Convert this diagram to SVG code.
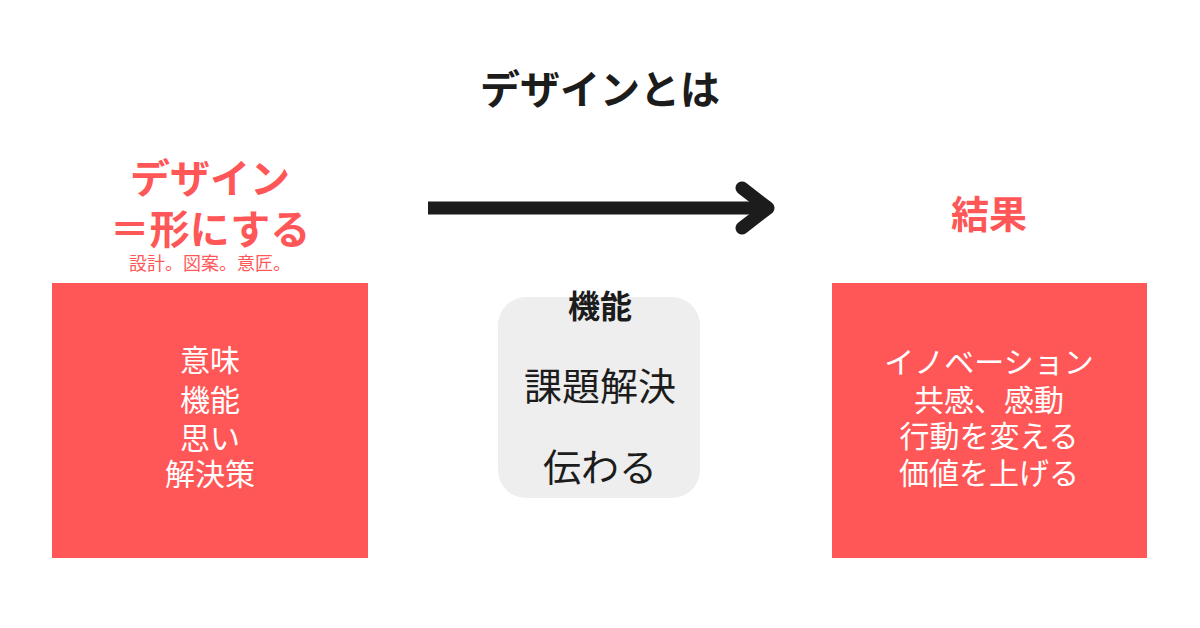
<svg xmlns="http://www.w3.org/2000/svg" width="1200" height="628" viewBox="0 0 1200 628">
<style>
text{font-family:"Noto Sans CJK JP","Noto Sans",sans-serif;text-anchor:middle}
.red{fill:#ff5757}
.w{fill:#fff;font-size:30px}
.k{fill:#1c1c1c}
</style>
<rect width="1200" height="628" fill="#fff"/>
<text class="k" x="600" y="104" font-size="40" font-weight="bold">デザインとは</text>
<g id="design">
<text class="red" x="210" y="193" font-size="40" font-weight="bold">デザイン</text>
<text class="red" x="210" y="244" font-size="40" font-weight="bold">＝形にする</text>
<text class="red" x="210" y="270" font-size="18">設計。図案。意匠。</text>
<rect class="red" x="52" y="283" width="316" height="275"/>
<text class="w" x="210" y="371">意味</text>
<text class="w" x="210" y="411">機能</text>
<text class="w" x="210" y="449">思い</text>
<text class="w" x="210" y="485">解決策</text>
</g>
<g id="connectors">
<line x1="428" y1="208" x2="765" y2="208" stroke="#1c1c1c" stroke-width="13"/>
<polyline points="742,188 768,208 742,228" fill="none" stroke="#1c1c1c" stroke-width="13" stroke-linecap="round" stroke-linejoin="round"/>
</g>
<g id="function">
<rect x="498" y="297" width="202" height="201" rx="28" fill="#eeeeee"/>
<text class="k" x="600" y="318" font-size="32" font-weight="bold">機能</text>
<text class="k" x="600" y="400" font-size="38">課題解決</text>
<text class="k" x="600" y="481" font-size="38">伝わる</text>
</g>
<g id="result">
<text class="red" x="989" y="228" font-size="38" font-weight="bold">結果</text>
<rect class="red" x="832" y="283" width="315" height="275"/>
<text class="w" x="989" y="373">イノベーション</text>
<text class="w" x="989" y="411">共感、感動</text>
<text class="w" x="989" y="447">行動を変える</text>
<text class="w" x="989" y="484">価値を上げる</text>
</g>
</svg>
